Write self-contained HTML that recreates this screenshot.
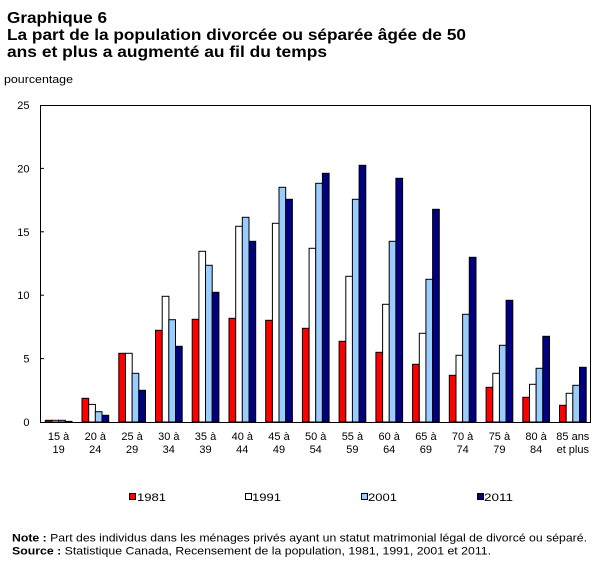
<!DOCTYPE html>
<html><head><meta charset="utf-8">
<style>
html,body{margin:0;padding:0;background:#fff;}
svg{display:block;font-family:"Liberation Sans",sans-serif;}
</style></head>
<body>
<svg width="607" height="569" viewBox="0 0 607 569" xmlns="http://www.w3.org/2000/svg">
<rect width="607" height="569" fill="#fff"/>
<g fill="#000">
<text x="7" y="23" font-size="16" font-weight="bold" textLength="100" lengthAdjust="spacingAndGlyphs">Graphique 6</text>
<text x="7" y="40" font-size="16" font-weight="bold" textLength="459" lengthAdjust="spacingAndGlyphs">La part de la population divorcée ou séparée âgée de 50</text>
<text x="7" y="57" font-size="16" font-weight="bold" textLength="320" lengthAdjust="spacingAndGlyphs">ans et plus a augmenté au fil du temps</text>
<text x="4" y="83" font-size="11" textLength="69" lengthAdjust="spacingAndGlyphs">pourcentage</text>
</g>
<g font-size="11" fill="#000" text-anchor="end">
<text x="29.5" y="109">25</text>
<text x="29.5" y="172.4">20</text>
<text x="29.5" y="235.8">15</text>
<text x="29.5" y="299.2">10</text>
<text x="29.5" y="362.6">5</text>
<text x="29.5" y="426">0</text>
</g>
<g stroke="#000" stroke-width="1">
<line x1="40.5" y1="168.4" x2="44" y2="168.4"/>
<line x1="40.5" y1="231.8" x2="44" y2="231.8"/>
<line x1="40.5" y1="295.2" x2="44" y2="295.2"/>
<line x1="40.5" y1="358.6" x2="44" y2="358.6"/>
</g>
<g stroke="#000" stroke-width="1">
<rect x="45.3" y="420.3" width="6.7" height="1.7" fill="#ff0000"/>
<rect x="52.0" y="420.3" width="6.7" height="1.7" fill="#fff"/>
<rect x="58.6" y="420.3" width="6.7" height="1.7" fill="#99ccff"/>
<rect x="65.3" y="421.4" width="6.7" height="0.6" fill="#000080"/>
<rect x="82.0" y="398.3" width="6.7" height="23.7" fill="#ff0000"/>
<rect x="88.7" y="404.4" width="6.7" height="17.6" fill="#fff"/>
<rect x="95.3" y="411.7" width="6.7" height="10.3" fill="#99ccff"/>
<rect x="102.0" y="415.3" width="6.7" height="6.7" fill="#000080"/>
<rect x="118.8" y="353.3" width="6.7" height="68.7" fill="#ff0000"/>
<rect x="125.5" y="353.3" width="6.7" height="68.7" fill="#fff"/>
<rect x="132.1" y="373.3" width="6.7" height="48.7" fill="#99ccff"/>
<rect x="138.8" y="390.3" width="6.7" height="31.7" fill="#000080"/>
<rect x="155.5" y="330.3" width="6.7" height="91.7" fill="#ff0000"/>
<rect x="162.2" y="296.3" width="6.7" height="125.7" fill="#fff"/>
<rect x="168.8" y="319.7" width="6.7" height="102.3" fill="#99ccff"/>
<rect x="175.5" y="346.3" width="6.7" height="75.7" fill="#000080"/>
<rect x="192.2" y="319.3" width="6.7" height="102.7" fill="#ff0000"/>
<rect x="198.9" y="251.3" width="6.7" height="170.7" fill="#fff"/>
<rect x="205.5" y="265.3" width="6.7" height="156.7" fill="#99ccff"/>
<rect x="212.2" y="292.3" width="6.7" height="129.7" fill="#000080"/>
<rect x="229.0" y="318.3" width="6.7" height="103.7" fill="#ff0000"/>
<rect x="235.7" y="226.3" width="6.7" height="195.7" fill="#fff"/>
<rect x="242.3" y="217.3" width="6.7" height="204.7" fill="#99ccff"/>
<rect x="249.0" y="241.3" width="6.7" height="180.7" fill="#000080"/>
<rect x="265.7" y="320.3" width="6.7" height="101.7" fill="#ff0000"/>
<rect x="272.4" y="223.3" width="6.7" height="198.7" fill="#fff"/>
<rect x="279.0" y="187.3" width="6.7" height="234.7" fill="#99ccff"/>
<rect x="285.7" y="199.3" width="6.7" height="222.7" fill="#000080"/>
<rect x="302.4" y="328.3" width="6.7" height="93.7" fill="#ff0000"/>
<rect x="309.1" y="248.3" width="6.7" height="173.7" fill="#fff"/>
<rect x="315.7" y="183.3" width="6.7" height="238.7" fill="#99ccff"/>
<rect x="322.4" y="173.3" width="6.7" height="248.7" fill="#000080"/>
<rect x="339.1" y="341.3" width="6.7" height="80.7" fill="#ff0000"/>
<rect x="345.8" y="276.3" width="6.7" height="145.7" fill="#fff"/>
<rect x="352.4" y="199.3" width="6.7" height="222.7" fill="#99ccff"/>
<rect x="359.1" y="165.3" width="6.7" height="256.7" fill="#000080"/>
<rect x="375.9" y="352.3" width="6.7" height="69.7" fill="#ff0000"/>
<rect x="382.6" y="304.3" width="6.7" height="117.7" fill="#fff"/>
<rect x="389.2" y="241.3" width="6.7" height="180.7" fill="#99ccff"/>
<rect x="395.9" y="178.3" width="6.7" height="243.7" fill="#000080"/>
<rect x="412.6" y="364.3" width="6.7" height="57.7" fill="#ff0000"/>
<rect x="419.3" y="333.3" width="6.7" height="88.7" fill="#fff"/>
<rect x="425.9" y="279.3" width="6.7" height="142.7" fill="#99ccff"/>
<rect x="432.6" y="209.3" width="6.7" height="212.7" fill="#000080"/>
<rect x="449.3" y="375.3" width="6.7" height="46.7" fill="#ff0000"/>
<rect x="456.0" y="355.3" width="6.7" height="66.7" fill="#fff"/>
<rect x="462.6" y="314.3" width="6.7" height="107.7" fill="#99ccff"/>
<rect x="469.3" y="257.3" width="6.7" height="164.7" fill="#000080"/>
<rect x="486.1" y="387.3" width="6.7" height="34.7" fill="#ff0000"/>
<rect x="492.8" y="373.3" width="6.7" height="48.7" fill="#fff"/>
<rect x="499.4" y="345.3" width="6.7" height="76.7" fill="#99ccff"/>
<rect x="506.1" y="300.3" width="6.7" height="121.7" fill="#000080"/>
<rect x="522.8" y="397.3" width="6.7" height="24.7" fill="#ff0000"/>
<rect x="529.5" y="384.3" width="6.7" height="37.7" fill="#fff"/>
<rect x="536.1" y="368.3" width="6.7" height="53.7" fill="#99ccff"/>
<rect x="542.8" y="336.3" width="6.7" height="85.7" fill="#000080"/>
<rect x="559.5" y="405.3" width="6.7" height="16.7" fill="#ff0000"/>
<rect x="566.2" y="393.3" width="6.7" height="28.7" fill="#fff"/>
<rect x="572.8" y="385.3" width="6.7" height="36.7" fill="#99ccff"/>
<rect x="579.5" y="367.3" width="6.7" height="54.7" fill="#000080"/>
</g>
<rect x="40.5" y="105.5" width="550" height="317" fill="none" stroke="#000" stroke-width="1"/>
<g font-size="11" fill="#000" text-anchor="middle">
<text x="58.6" y="440">15 à</text><text x="58.6" y="453">19</text>
<text x="95.3" y="440">20 à</text><text x="95.3" y="453">24</text>
<text x="132.1" y="440">25 à</text><text x="132.1" y="453">29</text>
<text x="168.8" y="440">30 à</text><text x="168.8" y="453">34</text>
<text x="205.5" y="440">35 à</text><text x="205.5" y="453">39</text>
<text x="242.3" y="440">40 à</text><text x="242.3" y="453">44</text>
<text x="279.0" y="440">45 à</text><text x="279.0" y="453">49</text>
<text x="315.7" y="440">50 à</text><text x="315.7" y="453">54</text>
<text x="352.4" y="440">55 à</text><text x="352.4" y="453">59</text>
<text x="389.2" y="440">60 à</text><text x="389.2" y="453">64</text>
<text x="425.9" y="440">65 à</text><text x="425.9" y="453">69</text>
<text x="462.6" y="440">70 à</text><text x="462.6" y="453">74</text>
<text x="499.4" y="440">75 à</text><text x="499.4" y="453">79</text>
<text x="536.1" y="440">80 à</text><text x="536.1" y="453">84</text>
<text x="572.8" y="440">85 ans</text><text x="572.8" y="453">et plus</text>
</g>
<g stroke="#000" stroke-width="1">
<rect x="129.5" y="493.5" width="6" height="6" fill="#ff0000"/>
<rect x="245.5" y="493.5" width="6" height="6" fill="#fff"/>
<rect x="361.5" y="493.5" width="6" height="6" fill="#99ccff"/>
<rect x="477.5" y="493.5" width="6" height="6" fill="#000080"/>
</g>
<g font-size="11" fill="#000">
<text x="137" y="501" textLength="29" lengthAdjust="spacingAndGlyphs">1981</text>
<text x="252" y="501" textLength="29" lengthAdjust="spacingAndGlyphs">1991</text>
<text x="368" y="501" textLength="29" lengthAdjust="spacingAndGlyphs">2001</text>
<text x="484" y="501" textLength="29" lengthAdjust="spacingAndGlyphs">2011</text>
</g>
<g font-size="11" fill="#000">
<text x="12" y="541.5" textLength="575" lengthAdjust="spacingAndGlyphs"><tspan font-weight="bold">Note :</tspan> Part des individus dans les ménages privés ayant un statut matrimonial légal de divorcé ou séparé.</text>
<text x="12" y="554.5" textLength="479" lengthAdjust="spacingAndGlyphs"><tspan font-weight="bold">Source :</tspan> Statistique Canada, Recensement de la population, 1981, 1991, 2001 et 2011.</text>
</g>
</svg>
</body></html>
